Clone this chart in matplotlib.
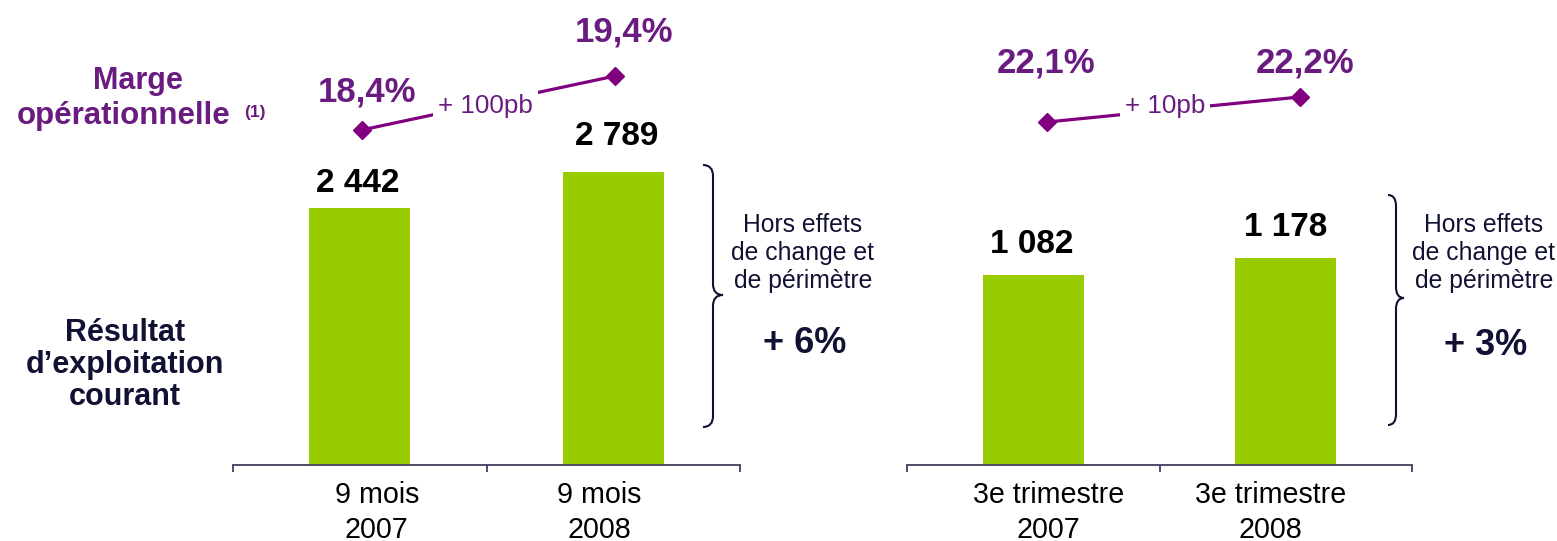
import matplotlib
matplotlib.use('Agg')
import matplotlib.pyplot as plt
from matplotlib.path import Path
from matplotlib.patches import PathPatch
from matplotlib.transforms import ScaledTranslation

# ---------------- data ----------------
periods_9m = ['9 mois\n2007', '9 mois\n2008']
roc_9m = [2442, 2789]
roc_9m_labels = ['2 442', '2 789']
marge_9m = [18.4, 19.4]
marge_9m_labels = ['18,4%', '19,4%']
delta_9m = '+ 100pb'
growth_9m = '+ 6%'

periods_q3 = ['3e trimestre\n2007', '3e trimestre\n2008']
roc_q3 = [1082, 1178]
roc_q3_labels = ['1 082', '1 178']
marge_q3 = [22.1, 22.2]
marge_q3_labels = ['22,1%', '22,2%']
delta_q3 = '+ 10pb'
growth_q3 = '+ 3%'

side_note = 'Hors effets\nde change et\nde périmètre'
row_title = 'Résultat\nd\u2019exploitation\ncourant'

# ---------------- style ----------------
W, H = 1557, 541
plt.rcParams['font.family'] = ['Liberation Sans', 'DejaVu Sans']
BAR = '#99cc00'
PURPLE_T = '#6a1b80'
PURPLE_L = '#800080'
NAVY = '#111133'
AXIS = '#404060'
PT = 0.72  # points per pixel at dpi 100

fig = plt.figure(figsize=(W / 100, H / 100), dpi=100)
fig.patch.set_facecolor('white')


def P(x, y):
    return (x / W, 1 - y / H)


def panel(x0, x1, ymax, mlim, periods, vals, vlabels, marge, mlabels, delta,
          v_off, m_off, d_off, t_off, line_dx=0):
    base = 465
    ax = fig.add_axes([x0 / W, (H - base) / H, (x1 - x0) / W, base / H])
    ax.bar(range(len(vals)), vals, width=0.4, color=BAR, zorder=2)
    ax.set_xlim(-0.5, len(vals) - 0.5)
    ax.set_ylim(0, ymax)
    for s in ['top', 'right', 'left']:
        ax.spines[s].set_visible(False)
    ax.spines['bottom'].set_color(AXIS)
    ax.spines['bottom'].set_linewidth(1.3)
    ax.set_yticks([])
    ax.set_xticks([])
    ax.set_xticks([i - 0.5 for i in range(len(vals) + 1)], minor=True)
    ax.tick_params(axis='x', which='minor', length=5, width=1.3, color=AXIS,
                   direction='out', labelbottom=False)
    for i, (v, lab) in enumerate(zip(vals, vlabels)):
        ax.annotate(lab, (i, v), xytext=(v_off[i][0] * PT, v_off[i][1] * PT),
                    textcoords='offset points', ha='center', va='baseline',
                    fontsize=24, fontweight='bold', color='black')
    for i, p in enumerate(periods):
        ax.annotate(p, (i, 0), xytext=(t_off[i] * PT, -16 * PT),
                    textcoords='offset points', ha='center', va='top',
                    fontsize=20.6, color='black', linespacing=1.3,
                    annotation_clip=False)
    axm = ax.twinx()
    axm.set_ylim(*mlim)
    axm.axis('off')
    shift = ScaledTranslation(line_dx / 100, 0, fig.dpi_scale_trans)
    axm.plot(range(len(marge)), marge, color=PURPLE_L, lw=2.3, marker='D',
             markersize=9, zorder=3, clip_on=False,
             transform=axm.transData + shift)
    for i, (m, lab) in enumerate(zip(marge, mlabels)):
        axm.annotate(lab, (i, m),
                     xytext=((m_off[i][0] + line_dx) * PT, m_off[i][1] * PT),
                     textcoords='offset points', ha='center', va='baseline',
                     fontsize=25, fontweight='bold', color=PURPLE_T,
                     annotation_clip=False)
    mid = sum(marge) / len(marge)
    axm.annotate(delta, ((len(marge) - 1) / 2, mid),
                 xytext=(d_off[0] * PT, d_off[1] * PT),
                 textcoords='offset points', ha='center', va='baseline',
                 fontsize=18.7, color=PURPLE_T, zorder=5,
                 bbox=dict(boxstyle='square,pad=0.2', fc='white', ec='none'),
                 annotation_clip=False)
    return ax


panel(233, 740, 4422, (12.196, 20.807), periods_9m, roc_9m, roc_9m_labels,
      marge_9m, marge_9m_labels, delta_9m,
      v_off=[(-2, 16), (3, 27)], m_off=[(5, 28), (9, 34)], d_off=(-1, -10),
      t_off=[17, -14], line_dx=2)
panel(907, 1412, 2646, (20.728, 22.588), periods_q3, roc_q3, roc_q3_labels,
      marge_q3, marge_q3_labels, delta_q3,
      v_off=[(-1, 22), (0, 22)], m_off=[(-1, 50), (5, 25)], d_off=(5.5, -3.5),
      t_off=[15, -15], line_dx=14)


def brace(x_end, x_mid, x_tip, y_top, y_tip, y_bot, r=11):
    pts = [
        (x_end, y_top), (x_mid, y_top), (x_mid, y_top + r),
        (x_mid, y_tip - r),
        (x_mid, y_tip), (x_tip, y_tip),
        (x_mid, y_tip), (x_mid, y_tip + r),
        (x_mid, y_bot - r),
        (x_mid, y_bot), (x_end, y_bot),
    ]
    codes = [Path.MOVETO, Path.CURVE3, Path.CURVE3, Path.LINETO,
             Path.CURVE3, Path.CURVE3, Path.CURVE3, Path.CURVE3,
             Path.LINETO, Path.CURVE3, Path.CURVE3]
    verts = [P(x, y) for x, y in pts]
    fig.add_artist(PathPatch(Path(verts, codes), transform=fig.transFigure,
                             fill=False, ec=NAVY, lw=1.5))


brace(703, 713, 723, 165, 295, 427)
brace(1388, 1396, 1404, 195, 298, 425)

# side notes
for cx, top, g_y, g in [(803, 213, 353, growth_9m), (1484, 213, 355, growth_q3)]:
    fig.text(*P(cx, top), side_note, ha='center', va='top', fontsize=17.8,
             color=NAVY, linespacing=1.2)
    fig.text(*P(cx + 2, g_y), g, ha='center', va='baseline', fontsize=26,
             fontweight='bold', color=NAVY)

# row titles
fig.text(*P(125, 318), row_title, ha='center', va='top', fontsize=22,
         fontweight='bold', color=NAVY, linespacing=1.08)
fig.text(*P(138, 89), 'Marge', ha='center', va='baseline', fontsize=22,
         fontweight='bold', color=PURPLE_T)
fig.text(*P(17, 124), 'opérationnelle', ha='left', va='baseline', fontsize=22.5,
         fontweight='bold', color=PURPLE_T)
fig.text(*P(244, 117), '(1)', ha='left', va='baseline', fontsize=12.5,
         fontweight='bold', color=PURPLE_T)

fig.savefig('out.png', dpi=100, facecolor='white')
